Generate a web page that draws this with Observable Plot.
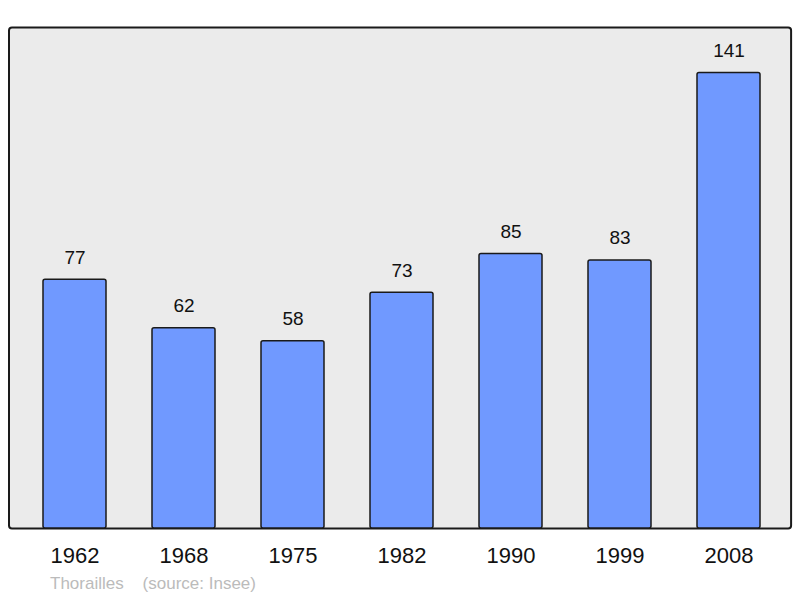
<!DOCTYPE html>
<html>
<head>
<meta charset="utf-8">
<script src="https://cdn.jsdelivr.net/npm/d3@7"></script>
<script src="https://cdn.jsdelivr.net/npm/@observablehq/plot@0.6"></script>
<style>
  html, body { margin: 0; padding: 0; background: #fff; }
  svg { display: block; }
</style>
</head>
<body>
<div id="chart"></div>
<script>
const years = ["1962", "1968", "1975", "1982", "1990", "1999", "2008"];
const population = [77, 62, 58, 73, 85, 83, 141];
const captionText = "Thorailles    (source: Insee)";

const data = years.map((y, i) => ({year: y, pop: population[i]}));
const yMax = d3.max(population) * 1.1;

const chart = Plot.plot({
  width: 800,
  height: 598,
  marginTop: 27,
  marginBottom: 70,
  marginLeft: 11.5,
  marginRight: 9.2,
  style: {fontFamily: "'Liberation Sans', Arial, sans-serif", background: "#fff"},
  x: {domain: years, paddingInner: 0.424, paddingOuter: 0.27, label: null},
  y: {domain: [0, yMax], axis: null},
  marks: [
    Plot.frame({fill: "#ebebeb", stroke: "#1a1a1a", strokeWidth: 2, rx: 3, insetLeft: -3, insetRight: 0.2}),
    Plot.barY(data, {x: "year", y: "pop", fill: "#7099ff", stroke: "#1a1a1a", strokeWidth: 1.5, rx: 2}),
    Plot.text(data, {x: "year", y: "pop", text: d => String(d.pop), dy: -22, fontSize: 19, fill: "#111"}),
    Plot.axisX({tickSize: 0, tickPadding: 19, fontSize: 22, fill: "#111", label: null}),
    Plot.text([captionText], {frameAnchor: "bottom-left", dx: 38, dy: 60, text: d => d, fill: "#bbbbbb", fontSize: 17, textAnchor: "start"})
  ]
});
chart.querySelectorAll("text").forEach(t => t.setAttribute("xml:space", "preserve"));
document.getElementById("chart").append(chart);
</script>
</body>
</html>
